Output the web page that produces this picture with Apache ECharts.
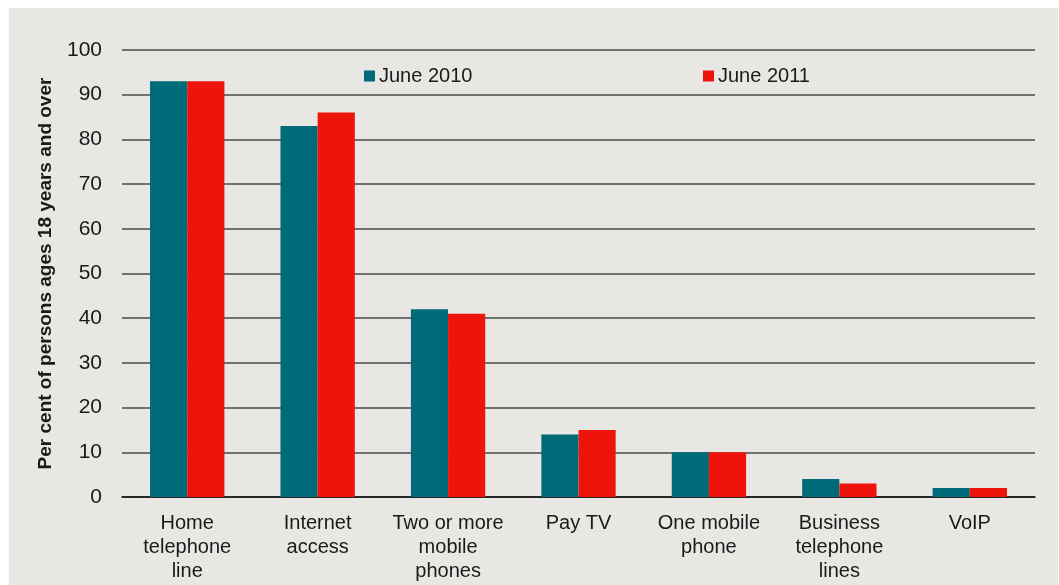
<!DOCTYPE html>
<html>
<head>
<meta charset="utf-8">
<script src="https://cdn.jsdelivr.net/npm/echarts@6/dist/echarts.min.js"></script>
<style>
  html, body { margin: 0; padding: 0; background: #ffffff; }
  #chart { width: 1059px; height: 585px; }
</style>
</head>
<body>
<div id="chart"></div>
<script>
// Communication services held by adults, share in per cent
const categories = [
  'Home\ntelephone\nline',
  'Internet\naccess',
  'Two or more\nmobile\nphones',
  'Pay TV',
  'One mobile\nphone',
  'Business\ntelephone\nlines',
  'VoIP'
];
const june2010 = [93, 83, 42, 14, 10, 4, 2];
const june2011 = [93, 86, 41, 15, 10, 3, 2];
const yTicks = [0, 10, 20, 30, 40, 50, 60, 70, 80, 90, 100];

const FONT = '"Liberation Sans", Arial, sans-serif';
const TEAL = '#006b78';
const RED = '#ee140c';

const chart = echarts.init(document.getElementById('chart'), null, { renderer: 'canvas' });

chart.setOption({
  backgroundColor: '#ffffff',
  animation: false,
  textStyle: { fontFamily: FONT, color: '#1a1a1a' },
  graphic: [{
    type: 'rect',
    z: -10,
    silent: true,
    shape: { x: 9, y: 8, width: 1049, height: 577 },
    style: { fill: '#e8e7e3' }
  }],
  legend: [
    {
      data: ['June 2010'],
      left: 364, top: 66,
      icon: 'rect', itemWidth: 11, itemHeight: 11, itemGap: 0,
      textStyle: { fontSize: 20, color: '#1a1a1a', fontFamily: FONT, padding: [0, 0, 0, -1] },
      padding: 0
    },
    {
      data: ['June 2011'],
      left: 703, top: 66,
      icon: 'rect', itemWidth: 11, itemHeight: 11, itemGap: 0,
      textStyle: { fontSize: 20, color: '#1a1a1a', fontFamily: FONT, padding: [0, 0, 0, -1] },
      padding: 0
    }
  ],
  grid: { left: 122, right: 24, top: 50, bottom: 88, containLabel: false },
  xAxis: {
    type: 'category',
    data: categories,
    axisTick: { show: false },
    axisLine: { show: true, lineStyle: { color: '#111111', width: 1.5 } },
    axisLabel: {
      interval: 0,
      fontSize: 20,
      lineHeight: 24,
      margin: 14,
      color: '#1a1a1a',
      fontFamily: FONT
    }
  },
  yAxis: {
    type: 'value',
    min: yTicks[0],
    max: yTicks[yTicks.length - 1],
    interval: 10,
    name: 'Per cent of persons ages 18 years and over',
    nameLocation: 'middle',
    nameGap: 67,
    nameTextStyle: { fontSize: 19, fontWeight: 'bold', color: '#1a1a1a', fontFamily: FONT },
    axisLine: { show: false },
    axisTick: { show: false },
    axisLabel: { fontSize: 21, margin: 20, color: '#1a1a1a', fontFamily: FONT },
    splitLine: { show: true, lineStyle: { color: '#4a4a4a', width: 1.5 } }
  },
  series: [
    {
      name: 'June 2010',
      type: 'bar',
      data: june2010,
      itemStyle: { color: TEAL },
      barGap: '0%',
      barCategoryGap: '43%'
    },
    {
      name: 'June 2011',
      type: 'bar',
      data: june2011,
      itemStyle: { color: RED },
      barGap: '0%',
      barCategoryGap: '43%'
    }
  ]
});
</script>
</body>
</html>
